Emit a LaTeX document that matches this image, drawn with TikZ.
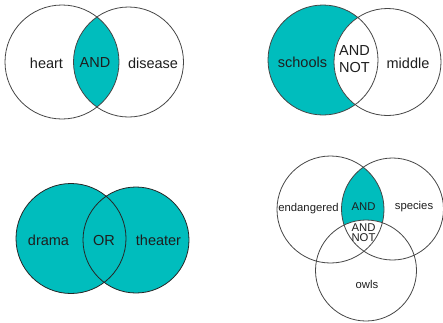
\documentclass[tikz,border=0pt]{standalone}
\usepackage{fontspec}
\setmainfont{Liberation Sans}
\definecolor{teal1}{RGB}{0,189,189}
\definecolor{edge}{RGB}{70,70,70}
\definecolor{ink}{RGB}{30,30,30}
\begin{document}
\begin{tikzpicture}[x=1pt,y=-1pt,
  ring/.style={draw=edge,line width=0.8pt},
  big/.style={text=ink,inner sep=0pt,font=\fontsize{14.5}{17.5}\selectfont,align=center},
  small/.style={text=ink,inner sep=0pt,font=\fontsize{11.3}{10}\selectfont,align=center}]
\useasboundingbox (0,0) rectangle (443,322);
% ---------- top left: AND ----------
\begin{scope}
  \clip (62,62) circle (57);
  \fill[teal1] (128.5,62) circle (55);
\end{scope}
\draw[ring] (62,62) circle (57);
\draw[ring] (128.5,62) circle (55);
\node[big] (heart) at (46.5,63) {heart};
\node[big] (and1) at (95,63) {AND};
\node[big] (disease) at (153,63) {disease};
% ---------- top right: AND NOT ----------
\fill[teal1] (323,60) circle (55);
\fill[white] (387.5,62) circle (53.5);
\draw[ring] (323,60) circle (55);
\draw[ring] (387.5,62) circle (53.5);
\node[big] (schools) at (302.5,62) {schools};
\node[big] (andnot1) at (354.5,59) {AND\\NOT};
\node[big] (middle) at (408,63) {middle};
% ---------- bottom left: OR ----------
\fill[teal1] (71,238.5) circle (55);
\fill[teal1] (136,240) circle (53);
\draw[ring,draw=black!85] (71,238.5) circle (55);
\draw[ring,draw=black!85] (136,240) circle (53);
\node[big] (drama) at (48.5,240) {drama};
\node[big] (or) at (104,240.5) {OR};
\node[big] (theater) at (158.5,240) {theater};
% ---------- bottom right: AND, AND NOT ----------
\begin{scope}
  \clip (330.5,209.5) circle (53.5);
  \fill[teal1] (392.5,209) circle (51);
\end{scope}
\fill[white] (366,270.5) circle (50.5);
\draw[ring] (330.5,209.5) circle (53.5);
\draw[ring] (392.5,209) circle (51);
\draw[ring] (366,270.5) circle (50.5);
\node[small] (endangered) at (308.5,208.5) {endangered};
\node[small] (and2) at (363.5,207) {AND};
\node[small] (species) at (414,206.5) {species};
\node[small] (andnot2) at (363.5,232.5) {AND\\NOT};
\node[small] (owls) at (367,284.5) {owls};
\end{tikzpicture}
\end{document}
